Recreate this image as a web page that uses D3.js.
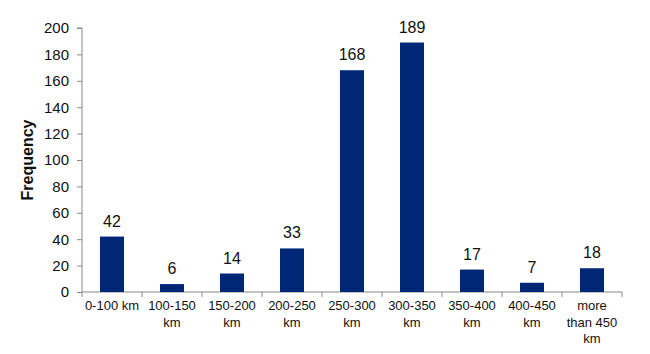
<!DOCTYPE html>
<html><head><meta charset="utf-8">
<script src="https://cdn.jsdelivr.net/npm/d3@7/dist/d3.min.js"></script>
<style>body{margin:0;background:#fff}svg{display:block;font-family:Arial,"Liberation Sans",sans-serif}</style>
</head><body>
<svg id="chart" width="650" height="354"></svg>
<script>
const categories = ["0-100 km","100-150 km","150-200 km","200-250 km","250-300 km","300-350 km","350-400 km","400-450 km","more than 450 km"];
const frequency = [42,6,14,33,168,189,17,7,18];
const yTicks = [0,20,40,60,80,100,120,140,160,180,200];
const yTitle = "Frequency";

const svg = d3.select("#chart");
const m = {left:82, right:28, top:28, bottom:62};
const W = 650, H = 354;
const x = d3.scaleBand().domain(categories).range([m.left, W-m.right]).paddingInner(0.6).paddingOuter(0.3);
const y = d3.scaleLinear().domain([0,200]).range([H-m.bottom, m.top]);
const axisColor = "#888";

// y axis
const ya = svg.append("g").attr("transform",`translate(${m.left},0)`)
  .call(d3.axisLeft(y).tickValues(yTicks).tickSize(5).tickPadding(8));
ya.select(".domain").attr("stroke",axisColor).attr("d",`M-5,${y(200)}H0V${y(0)}`);
ya.selectAll(".tick line").attr("stroke",axisColor);
ya.selectAll(".tick text").attr("font-size",15).attr("fill","#111").attr("font-family","Arial, 'Liberation Sans', sans-serif");

// x axis
const step = x.step();
const xa = svg.append("g").attr("transform",`translate(0,${y(0)})`);
xa.append("line").attr("x1",m.left).attr("x2",W-m.right).attr("y1",0).attr("y2",0).attr("stroke",axisColor);
const bounds = d3.range(categories.length+1).map(i => m.left + i*step);
xa.selectAll("line.t").data(bounds).join("line").attr("class","t")
  .attr("x1",d=>d).attr("x2",d=>d).attr("y1",0).attr("y2",5).attr("stroke",axisColor);

// wrap labels
const ctx = document.createElement("canvas").getContext("2d");
ctx.font = "13px Arial, 'Liberation Sans', sans-serif";
function wrap(s, maxW){
  const words = s.split(" "); const lines=[]; let cur="";
  for(const w of words){
    const t = cur ? cur+" "+w : w;
    if(ctx.measureText(t).width > maxW && cur){ lines.push(cur); cur=w; } else cur=t;
  }
  if(cur) lines.push(cur);
  return lines;
}
categories.forEach(c=>{
  const lines = wrap(c, 56);
  const t = xa.append("text").attr("x", x(c)+x.bandwidth()/2).attr("y",18)
    .attr("text-anchor","middle").attr("font-size",13).attr("fill","#111");
  lines.forEach((l,i)=> t.append("tspan").attr("x", x(c)+x.bandwidth()/2).attr("dy", i===0?0:16.5).text(l));
});

// bars
svg.append("g").selectAll("rect").data(frequency).join("rect")
  .attr("x",(d,i)=>x(categories[i])).attr("width",x.bandwidth())
  .attr("y",d=>y(d)).attr("height",d=>y(0)-y(d)).attr("fill","#002776");

// value labels
svg.append("g").selectAll("text").data(frequency).join("text")
  .attr("x",(d,i)=>x(categories[i])+x.bandwidth()/2).attr("y",d=>y(d)-10)
  .attr("text-anchor","middle").attr("font-size",16).attr("fill","#111").text(d=>d);

// y title
svg.append("text").attr("transform",`translate(33,${(y(0)+y(200))/2}) rotate(-90)`)
  .attr("text-anchor","middle").attr("font-size",16).attr("font-weight","bold").attr("fill","#111").text(yTitle);
</script>
</body></html>
